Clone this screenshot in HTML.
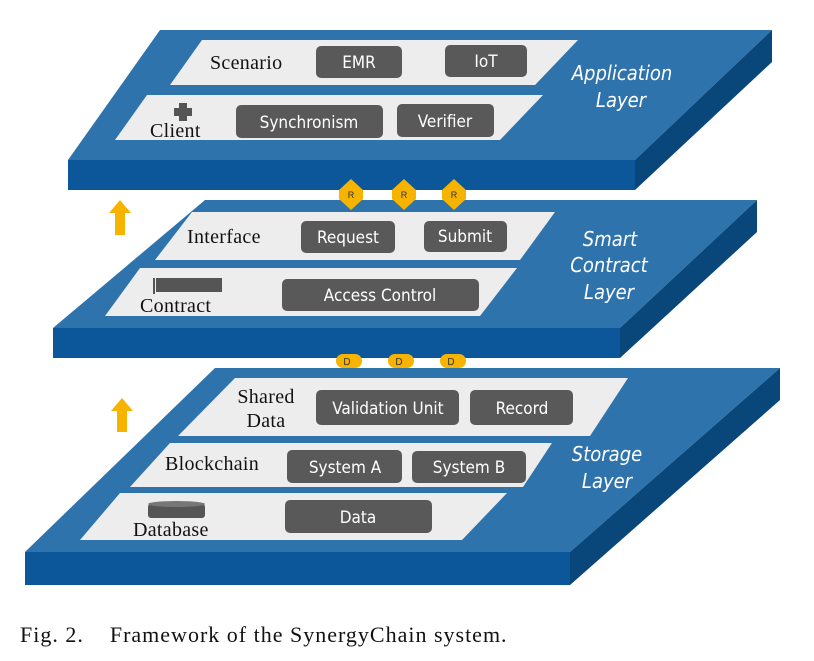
<!DOCTYPE html>
<html><head><style>
html,body{margin:0;padding:0;background:#fff;}
svg{display:block}
.l{font-family:"Liberation Serif",serif;font-size:20px;fill:#111;letter-spacing:0.3px}
.b{font-family:"DejaVu Sans Condensed","Liberation Sans",sans-serif;font-size:17px;fill:#fff}
.t{font-family:"DejaVu Sans Condensed","Liberation Sans",sans-serif;font-size:20px;fill:#fff;font-style:italic}
.bt{fill:#595959}
.top{fill:#2f73ad}.front{fill:#0b5799}.side{fill:#094679}.row{fill:#ededed}
.y{fill:#f6b400}
</style></head><body>
<svg width="814" height="661" viewBox="0 0 814 661" xmlns="http://www.w3.org/2000/svg">
<polygon class="top" points="160,30 772,30 635,160 68,160"/>
<rect class="front" x="68" y="160" width="567" height="30"/>
<polygon class="side" points="635,160 772,30 772,62 635,190"/>
<polygon class="row" points="202,40 578,40 535,85 170,85"/>
<polygon class="row" points="147,95 543,95 500,140 115,140"/>
<rect class="bt" x="316" y="46" width="86" height="32" rx="5"/>
<rect class="bt" x="445" y="45" width="82" height="32" rx="5"/>
<rect class="bt" x="236" y="105" width="147" height="33" rx="5"/>
<rect class="bt" x="397" y="104" width="97" height="33" rx="5"/>
<text class="b" x="359" y="68" text-anchor="middle">EMR</text>
<text class="b" x="486" y="67" text-anchor="middle">IoT</text>
<text class="b" x="309" y="128" text-anchor="middle">Synchronism</text>
<text class="b" x="445" y="127" text-anchor="middle">Verifier</text>
<text class="l" x="210" y="69">Scenario</text>
<text class="l" x="150" y="137">Client</text>
<path d="M179,103h8v5h5v8h-5v5h-8v-5h-5v-8h5z" fill="#555"/>
<text class="t" x="622" y="80" text-anchor="middle">Application</text>
<text class="t" x="621" y="107" text-anchor="middle">Layer</text>
<g class="y">
<polygon points="351,179 363,190 363,199 351,210 339,199 339,190"/>
<polygon points="404,179 416,190 416,199 404,210 392,199 392,190"/>
<polygon points="454,179 466,190 466,199 454,210 442,199 442,190"/>
</g>
<g font-family="Liberation Sans,sans-serif" font-size="9" fill="#333" text-anchor="middle">
<text x="351" y="198">R</text><text x="404" y="198">R</text><text x="454" y="198">R</text></g>
<polygon class="y" points="120,200 131,213 125,213 125,235 115,235 115,213 109,213"/>
<polygon class="y" points="122,398 133,411 127,411 127,432 117,432 117,411 111,411"/>
<polygon class="top" points="205,200 757,200 620,328 53,328"/>
<rect class="front" x="53" y="328" width="567" height="30"/>
<polygon class="side" points="620,328 757,200 757,232 620,358"/>
<g class="y">
<polygon points="339,199 363,199 351,210"/><polygon points="392,199 416,199 404,210"/><polygon points="442,199 466,199 454,210"/>
</g>
<polygon class="row" points="192,212 555,212 520,260 155,260"/>
<polygon class="row" points="140,268 517,268 480,316 105,316"/>
<rect class="bt" x="301" y="221" width="94" height="32" rx="5"/>
<rect class="bt" x="424" y="221" width="83" height="31" rx="5"/>
<rect class="bt" x="282" y="279" width="197" height="32" rx="5"/>
<text class="b" x="348" y="243" text-anchor="middle">Request</text>
<text class="b" x="465" y="242" text-anchor="middle">Submit</text>
<text class="b" x="380" y="301" text-anchor="middle">Access Control</text>
<text class="l" x="187" y="243">Interface</text>
<text class="l" x="140" y="312">Contract</text>
<rect x="156" y="278" width="66" height="14" fill="#555"/>
<rect x="153" y="278" width="2" height="16" fill="#555"/>
<text class="t" x="610" y="246" text-anchor="middle">Smart</text>
<text class="t" x="609" y="272" text-anchor="middle">Contract</text>
<text class="t" x="609" y="299" text-anchor="middle">Layer</text>
<g class="y">
<rect x="336" y="354" width="26" height="14" rx="7"/>
<rect x="388" y="354" width="26" height="14" rx="7"/>
<rect x="440" y="354" width="26" height="14" rx="7"/>
</g>
<g font-family="Liberation Sans,sans-serif" font-size="10" fill="#333" text-anchor="middle">
<text x="347" y="365">D</text><text x="399" y="365">D</text><text x="451" y="365">D</text></g>
<polygon class="top" points="215,368 780,368 570,552 25,552"/>
<rect class="front" x="25" y="552" width="545" height="33"/>
<polygon class="side" points="570,552 780,368 780,400 570,585"/>
<polygon class="row" points="235,378 628,378 590,436 178,436"/>
<polygon class="row" points="170,443 552,443 523,487 130,487"/>
<polygon class="row" points="120,493 507,493 462,540 80,540"/>
<rect class="bt" x="316" y="390" width="143" height="35" rx="5"/>
<rect class="bt" x="470" y="390" width="103" height="35" rx="5"/>
<rect class="bt" x="287" y="450" width="115" height="33" rx="5"/>
<rect class="bt" x="412" y="451" width="114" height="32" rx="5"/>
<rect class="bt" x="285" y="500" width="147" height="33" rx="5"/>
<text class="b" x="388" y="414" text-anchor="middle">Validation Unit</text>
<text class="b" x="522" y="414" text-anchor="middle">Record</text>
<text class="b" x="345" y="473" text-anchor="middle">System A</text>
<text class="b" x="469" y="473" text-anchor="middle">System B</text>
<text class="b" x="358" y="523" text-anchor="middle">Data</text>
<text class="l" x="266" y="403" text-anchor="middle">Shared</text>
<text class="l" x="266" y="427" text-anchor="middle">Data</text>
<text class="l" x="165" y="470">Blockchain</text>
<text class="l" x="133" y="536">Database</text>
<rect x="148" y="504" width="57" height="14" rx="3" fill="#555"/>
<ellipse cx="176.5" cy="504" rx="28.5" ry="3" fill="#777"/>
<text class="t" x="607" y="461" text-anchor="middle">Storage</text>
<text class="t" x="607" y="488" text-anchor="middle">Layer</text>
<text x="20" y="642" font-family="Liberation Serif,serif" font-size="22" letter-spacing="1" fill="#111" xml:space="preserve">Fig. 2.    Framework of the SynergyChain system.</text>
</svg>
</body></html>
